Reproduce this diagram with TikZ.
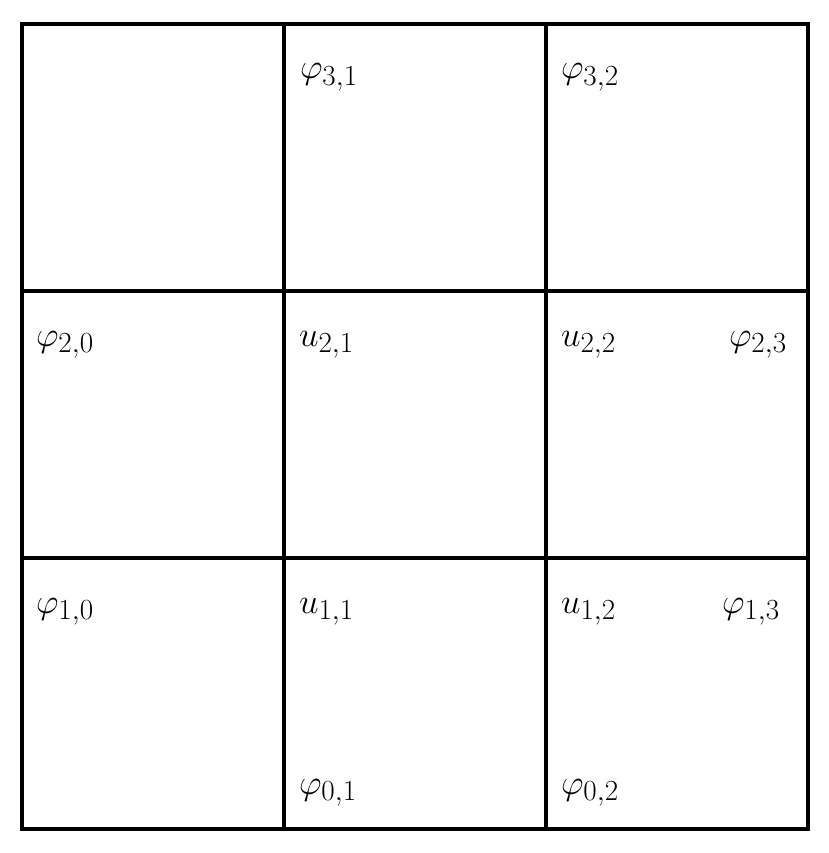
\documentclass[tikz,border=0pt]{standalone}
\usepackage{amsmath}
\usetikzlibrary{calc}
\DeclareMathSizes{26}{26}{20}{15}

\begin{document}
\begin{tikzpicture}[x=0.025cm, y=-0.025cm, line width=0.1cm,
  lbl/.style={anchor=base west, inner sep=0pt, font=\fontsize{26}{30}\selectfont}]
  \useasboundingbox (0,0) rectangle (828,853);
  % Grid
  \draw (22,24) rectangle (808,829);
  \draw (284,24) -- (284,829);
  \draw (546,24) -- (546,829);
  \draw (22,291) -- (808,291);
  \draw (22,558) -- (808,558);
  % Nodes
  \node[lbl] (p31) at (298,79) {$\varphi_{3,1}$};
  \node[lbl] (p32) at (559,79) {$\varphi_{3,2}$};
  \node[lbl] (p20) at (34,346) {$\varphi_{2,0}$};
  \node[lbl] (u21) at (297,346) {$u_{2,1}$};
  \node[lbl] (u22) at (559,346) {$u_{2,2}$};
  \node[lbl] (p23) at (727,346) {$\varphi_{2,3}$};
  \node[lbl] (p10) at (34,613) {$\varphi_{1,0}$};
  \node[lbl] (u11) at (297,613) {$u_{1,1}$};
  \node[lbl] (u12) at (559,613) {$u_{1,2}$};
  \node[lbl] (p13) at (720,613) {$\varphi_{1,3}$};
  \node[lbl] (p01) at (297,794) {$\varphi_{0,1}$};
  \node[lbl] (p02) at (559,794) {$\varphi_{0,2}$};
\end{tikzpicture}
\end{document}
